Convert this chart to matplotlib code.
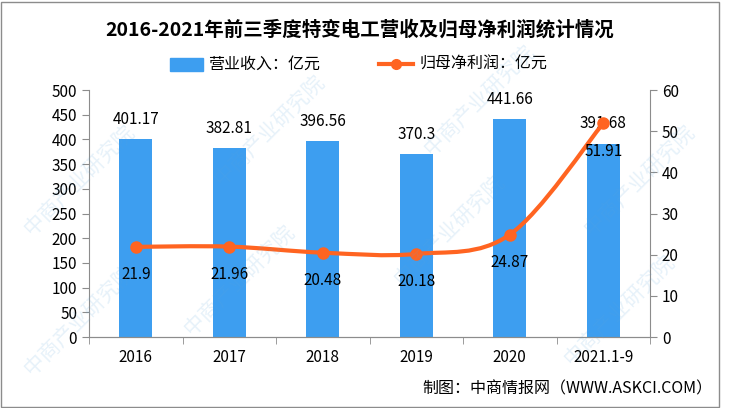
import numpy as np
import matplotlib.pyplot as plt
from matplotlib.path import Path
from matplotlib.patches import PathPatch, Rectangle

plt.rcParams['font.family'] = ['Noto Sans CJK SC', 'DejaVu Sans']

# data
years = ['2016', '2017', '2018', '2019', '2020', '2021.1-9']
revenue = [401.17, 382.81, 396.56, 370.3, 441.66, 391.68]
profit = [21.9, 21.96, 20.48, 20.18, 24.87, 51.91]

bar_color = '#3d9ef0'
line_color = '#ff6421'
grey = '#8c8c8c'

fig = plt.figure(figsize=(7.31, 4.08), dpi=100)
ax = fig.add_axes([89 / 731, (408 - 337) / 408, (650 - 89) / 731, (337 - 90) / 408])
ax2 = ax.twinx()

x = np.arange(len(years))
ax.bar(x, revenue, width=0.35, color=bar_color, zorder=2)
ax.set_xlim(-0.5, len(years) - 0.5)
ax.set_ylim(0, 500)
ax.set_yticks(np.arange(0, 501, 50))
ax2.set_ylim(0, 60)
ax2.set_yticks(np.arange(0, 61, 10))

# smooth line through the points (Catmull-Rom -> bezier)
pts = np.column_stack([x, profit]).astype(float)
verts = [tuple(pts[0])]
codes = [Path.MOVETO]
for i in range(len(pts) - 1):
    p0 = pts[i - 1] if i > 0 else pts[i]
    p1 = pts[i]
    p2 = pts[i + 1]
    p3 = pts[i + 2] if i + 2 < len(pts) else pts[i + 1]
    c1 = p1 + (p2 - p0) / 6
    c2 = p2 - (p3 - p1) / 6
    verts += [tuple(c1), tuple(c2), tuple(p2)]
    codes += [Path.CURVE4] * 3
ax2.add_patch(PathPatch(Path(verts, codes), facecolor='none', edgecolor=line_color,
                        lw=3, zorder=3))
ax2.plot(x, profit, 'o', color=line_color, ms=8, zorder=4)

for xi, v in zip(x, revenue):
    ax.annotate(f'{v:g}', (xi, v), xytext=(0, 8), textcoords='offset points',
                ha='center', va='bottom', fontsize=11, zorder=5)
for xi, v in zip(x, profit):
    ax2.annotate(f'{v:g}', (xi, v), xytext=(0, -14), textcoords='offset points',
                 ha='center', va='top', fontsize=11, zorder=5)

for a in (ax, ax2):
    for s in a.spines.values():
        s.set_color(grey)
    a.spines['top'].set_visible(False)
    a.tick_params(colors=grey, labelcolor='black', labelsize=11, length=5)
ax2.spines['left'].set_visible(False)
ax.spines['right'].set_visible(False)

ax.set_xticks(x)
ax.set_xticklabels(years)
ax.tick_params(axis='x', length=0, pad=9)
ax.set_xticks(np.arange(-0.5, len(years), 1), minor=True)
ax.tick_params(axis='x', which='minor', length=5, color=grey)
ax.set_zorder(ax2.get_zorder() - 1)
ax2.patch.set_visible(False)

# title and legend
fig.text(360 / 731, 1 - 30 / 408, '2016-2021年前三季度特变电工营收及归母净利润统计情况',
         ha='center', va='center', fontsize=14, fontweight='bold')
fig.patches.append(Rectangle((170 / 731, 1 - 71 / 408), 33 / 731, 13 / 408,
                             transform=fig.transFigure, color=bar_color))
fig.text(208 / 731, 1 - 64 / 408, '营业收入：亿元', ha='left', va='center', fontsize=11.5)
fig.lines.append(plt.Line2D([379 / 731, 413 / 731], [1 - 64 / 408] * 2,
                            transform=fig.transFigure, color=line_color, lw=3))
fig.lines.append(plt.Line2D([396 / 731], [1 - 64 / 408], transform=fig.transFigure,
                            color=line_color, marker='o', ms=7))
fig.text(420 / 731, 1 - 64 / 408, '归母净利润：亿元', ha='left', va='center', fontsize=11.5)

fig.text(712 / 731, 1 - 389 / 408, '制图：中商情报网（WWW.ASKCI.COM）', ha='right',
         va='center', fontsize=11.5)

# border
fig.patches.append(Rectangle((1 / 731, 1 / 408), 718 / 731, 405 / 408, transform=fig.transFigure,
                             fill=False, edgecolor=grey, lw=1))

# faint watermarks, kept inside the frame
for wx, wy in [(80, 180), (240, 280), (270, 130), (450, 230), (480, 100),
               (640, 180), (620, 310), (80, 320)]:
    fig.text(wx / 731, 1 - wy / 408, '中商产业研究院', rotation=45, fontsize=15,
             color='#5aa5dc', alpha=0.15, ha='center', va='center', zorder=10)

fig.savefig('out.png', dpi=100)
